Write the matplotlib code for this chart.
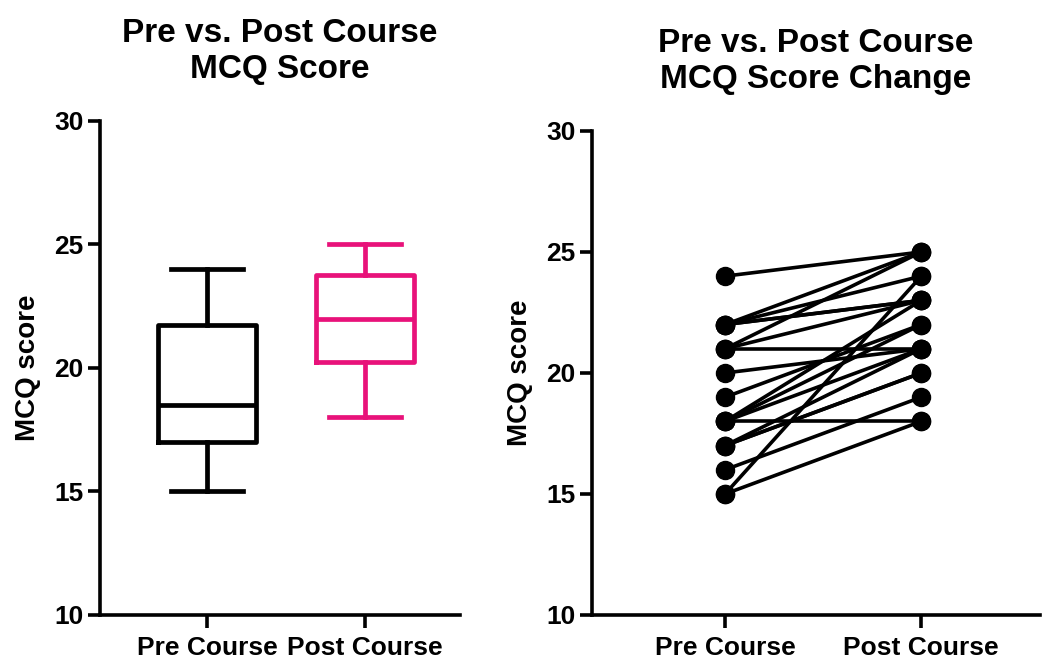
import numpy as np
import matplotlib
matplotlib.use("Agg")
import matplotlib.pyplot as plt

# paired MCQ scores, one entry per student
pre = [24, 22, 22, 22, 22, 21, 21, 21, 20, 19, 18, 18, 18, 18, 17, 17, 17, 16, 15, 15]
post = [25, 25, 24, 23, 23, 25, 23, 21, 21, 22, 18, 23, 22, 21, 21, 20, 20, 19, 18, 24]
groups = ["Pre Course", "Post Course"]
colors = ["black", "#E8127A"]

plt.rcParams['font.family'] = ['Liberation Sans', 'DejaVu Sans']
plt.rcParams['font.weight'] = 'bold'

fig = plt.figure(figsize=(10.44, 6.64), dpi=100)
ax1 = fig.add_axes([0.0958, 0.0738, 0.345, 0.744])
ax2 = fig.add_axes([0.567, 0.0738, 0.429, 0.729])


def box_stats(vals, label):
    q1, med, q3 = np.percentile(vals, [25, 50, 75], method='weibull')
    return dict(med=med, q1=q1, q3=q3, whislo=min(vals), whishi=max(vals),
                label=label, fliers=[])


stats = [box_stats(pre, groups[0]), box_stats(post, groups[1])]
for i, st in enumerate(stats):
    c = colors[i]
    lw = 3.4
    ax1.bxp([st], positions=[i], widths=0.62, capwidths=0.46, showfliers=False,
            boxprops=dict(color=c, linewidth=lw),
            medianprops=dict(color=c, linewidth=lw),
            whiskerprops=dict(color=c, linewidth=lw),
            capprops=dict(color=c, linewidth=lw))

# paired lines
for a, b in zip(pre, post):
    ax2.plot([0, 1], [a, b], color='black', linewidth=2.6, marker='o',
             markersize=13, solid_capstyle='round')

for ax, title in [(ax1, "Pre vs. Post Course\nMCQ Score"),
                  (ax2, "Pre vs. Post Course\nMCQ Score Change")]:
    ax.set_ylim(10, 30)
    ax.set_yticks([10, 15, 20, 25, 30])
    ax.set_xlim(-0.678, 1.604)
    ax.set_xticks([0, 1])
    ax.set_xticklabels(groups, fontsize=19, fontweight='bold')
    ax.tick_params(axis='y', labelsize=19, width=2.6, length=9, pad=3)
    ax.tick_params(axis='x', width=2.6, length=9, pad=6)
    for lab in ax.get_yticklabels():
        lab.set_fontweight('bold')
    ax.spines['top'].set_visible(False)
    ax.spines['right'].set_visible(False)
    ax.spines['left'].set_linewidth(2.6)
    ax.spines['bottom'].set_linewidth(2.6)
    ax.set_ylabel("MCQ score", fontsize=20, fontweight='bold', labelpad=9)
    ax.set_title(title, fontsize=24, fontweight='bold', pad=31, linespacing=1.22)

fig.savefig("out.png", dpi=100)
